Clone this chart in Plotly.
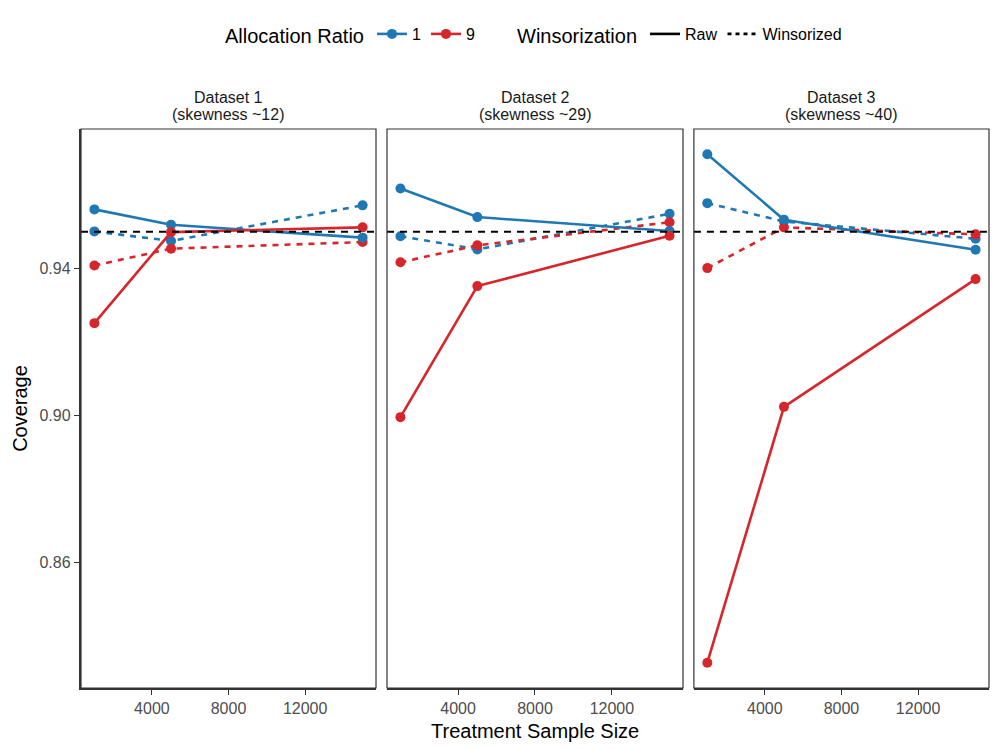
import plotly.graph_objects as go

# treatment sample sizes
sample_size = [1000, 5000, 15000]
x_ticks = [4000, 8000, 12000]

strip_top = ["Dataset 1", "Dataset 2", "Dataset 3"]
strip_bottom = ["(skewness ~12)", "(skewness ~29)", "(skewness ~40)"]

# coverage, one list per dataset
ratio1_raw = [
    [0.9561, 0.9519, 0.9484],
    [0.9618, 0.9540, 0.9502],
    [0.9711, 0.9533, 0.9451],
]
ratio1_wins = [
    [0.9501, 0.9475, 0.9572],
    [0.9488, 0.9452, 0.9549],
    [0.9578, 0.9528, 0.9481],
]
ratio9_raw = [
    [0.9251, 0.9499, 0.9512],
    [0.8995, 0.9352, 0.9489],
    [0.8326, 0.9023, 0.9371],
]
ratio9_wins = [
    [0.9408, 0.9454, 0.9472],
    [0.9417, 0.9463, 0.9526],
    [0.9401, 0.9512, 0.9493],
]
nominal = 0.95

blue = "#1f78b4"
red = "#d7262b"
dash_style = "6px,6px"

fig = go.Figure()

domains = [[0, 0.3249], [0.337, 0.663], [0.675, 1.0]]

for i in range(3):
    xa = "x" if i == 0 else f"x{i+1}"
    ya = "y" if i == 0 else f"y{i+1}"
    for vals, col, dash in [
        (ratio1_wins[i], blue, dash_style),
        (ratio9_wins[i], red, dash_style),
        (ratio1_raw[i], blue, "solid"),
        (ratio9_raw[i], red, "solid"),
    ]:
        fig.add_trace(go.Scatter(x=sample_size, y=vals, mode="lines+markers",
                                 line=dict(color=col, width=2.6, dash=dash),
                                 marker=dict(color=col, size=10),
                                 xaxis=xa, yaxis=ya, showlegend=False))
    # nominal 95% reference
    fig.add_shape(type="line", xref=f"{xa} domain", yref=ya, x0=0, x1=1, y0=nominal, y1=nominal,
                  line=dict(color="black", width=2, dash="7px,6px"))
    # panel border
    fig.add_shape(type="rect", xref=f"{xa} domain", yref=f"{ya} domain", x0=0, x1=1, y0=0, y1=1,
                  line=dict(color="#333333", width=1.2), layer="above")
    # facet strip, two lines
    for txt, shift in [(strip_top[i], 32), (strip_bottom[i], 15)]:
        fig.add_annotation(text=txt, x=0.5, xref=f"{xa} domain", y=1.0, yref=f"{ya} domain",
                           yanchor="middle", yshift=shift, showarrow=False,
                           font=dict(size=16, color="#1a1a1a"))

# legend entries
fig.add_trace(go.Scatter(x=[None], y=[None], mode="lines+markers", name="1",
                         line=dict(color=blue, width=2.6), marker=dict(color=blue, size=10),
                         legend="legend"))
fig.add_trace(go.Scatter(x=[None], y=[None], mode="lines+markers", name="9",
                         line=dict(color=red, width=2.6), marker=dict(color=red, size=10),
                         legend="legend"))
fig.add_trace(go.Scatter(x=[None], y=[None], mode="lines", name="Raw",
                         line=dict(color="black", width=2.6), legend="legend2"))
fig.add_trace(go.Scatter(x=[None], y=[None], mode="lines", name="Winsorized",
                         line=dict(color="black", width=2.6, dash="4px,4px"), legend="legend2"))

x_common = dict(range=[300, 15700], tickvals=x_ticks, ticktext=[str(t) for t in x_ticks],
                ticks="outside", ticklen=5,
                tickcolor="#333333", tickwidth=1.2, showgrid=False, zeroline=False,
                showline=True, linecolor="#333333", linewidth=2.4, automargin=False,
                tickfont=dict(size=16, color="#4d4d4d"))
y_common = dict(range=[0.8257, 0.9780], tickvals=[0.86, 0.90, 0.94], showgrid=False,
                zeroline=False, automargin=False)

fig.update_layout(
    width=1000, height=750,
    plot_bgcolor="white", paper_bgcolor="white",
    font=dict(family="Liberation Sans, Arial, sans-serif", color="black"),
    margin=dict(l=73, r=19, t=121, b=70, autoexpand=False),
    xaxis=dict(domain=domains[0], anchor="y", **x_common),
    xaxis2=dict(domain=domains[1], anchor="y2", **x_common),
    xaxis3=dict(domain=domains[2], anchor="y3", **x_common),
    yaxis=dict(anchor="x", ticks="outside", ticklen=5, tickcolor="#333333", tickwidth=1.2,
               tickformat=".2f", showline=True, linecolor="#333333", linewidth=2.4,
               tickfont=dict(size=16, color="#4d4d4d"),
               title=dict(text="Coverage", font=dict(size=20), standoff=6), **y_common),
    yaxis2=dict(anchor="x2", matches="y", showticklabels=False, **y_common),
    yaxis3=dict(anchor="x3", matches="y", showticklabels=False, **y_common),
    legend=dict(orientation="h", x=0.215, xref="container", xanchor="left",
                y=0.964, yref="container", yanchor="middle",
                title=dict(text="Allocation Ratio", font=dict(size=20)),
                font=dict(size=16), itemwidth=30),
    legend2=dict(orientation="h", x=0.507, xref="container", xanchor="left",
                 y=0.964, yref="container", yanchor="middle",
                 title=dict(text="Winsorization", font=dict(size=20)),
                 font=dict(size=16), itemwidth=30),
)

fig.add_annotation(text="Treatment Sample Size", x=0.5, xref="paper", y=0, yref="paper",
                   yanchor="top", yshift=-30, showarrow=False, font=dict(size=20))

fig.write_html("out.html")
